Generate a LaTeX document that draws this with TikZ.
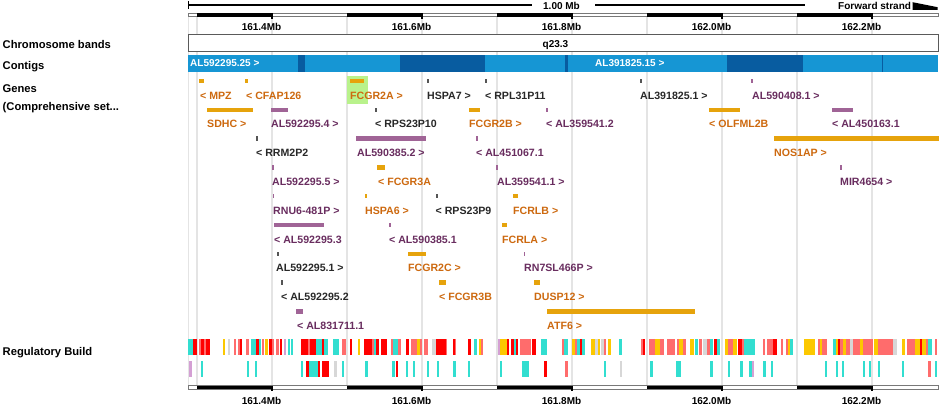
\documentclass[tikz,border=0pt]{standalone}
\usepackage{fontspec}
\setmainfont{Liberation Sans}
\definecolor{gbar}{RGB}{230,163,12}
\definecolor{glab}{RGB}{205,105,15}
\definecolor{pbar}{RGB}{160,100,150}
\definecolor{plab}{RGB}{105,45,95}
\definecolor{kbar}{RGB}{85,85,85}
\definecolor{klab}{RGB}{40,40,40}
\definecolor{hilite}{RGB}{185,242,140}
\definecolor{ctgL}{RGB}{22,150,212}
\definecolor{ctgD}{RGB}{8,92,160}
\definecolor{gridc}{RGB}{228,228,228}
\definecolor{rulc}{RGB}{120,120,120}
\definecolor{bandc}{RGB}{90,90,90}
\definecolor{rCy}{RGB}{50,222,208}
\definecolor{rRd}{RGB}{255,0,0}
\definecolor{rSa}{RGB}{255,108,108}
\definecolor{rGo}{RGB}{252,200,0}
\definecolor{rGr}{RGB}{215,215,215}
\definecolor{rPk}{RGB}{212,160,212}
\newcommand\fLeft{\fontsize{11.2}{13}\selectfont\bfseries}
\newcommand\fRul{\fontsize{10}{12}\selectfont\bfseries}
\newcommand\fGene{\fontsize{10.6}{12}\selectfont\bfseries}
% name, row, x1, x2, barcolour, label x, text colour, text
\newcommand\ensgene[8]{%
  \fill[#5] (#3,{81+28.8*#2-2.25}) rectangle (#4,{81+28.8*#2+2.25});
  \node[genelab, text=#7] (#1) at (#6,{99.1+28.8*#2}) {#8};
}
\newcommand\ensruler[1]{%
  \draw[rulc, line width=0.6, fill=white] (188,#1) rectangle (938,#1+3.6);
  \foreach \x in {197,347,497,647,797} \fill (\x,#1) rectangle (\x+75,#1+3.6);
  \foreach \x in {272,422,572,722,872} \draw[line width=1.3] (\x,#1) -- (\x,#1+5.5);
}
\begin{document}
\begin{tikzpicture}[x=1pt,y=-1pt,
  genelab/.style={anchor=base west, inner sep=0pt, font=\fGene},
  leftlab/.style={anchor=base west, inner sep=0pt, font=\fLeft},
  rullab/.style={anchor=base, inner sep=0pt, font=\fRul},
  ctglab/.style={anchor=base west, inner sep=0pt, font=\fRul, text=white}]
\useasboundingbox (0,0) rectangle (941,406);
\fill[white] (0,0) rectangle (941,406);

% grid lines
\foreach \x in {197,272,...,872} \draw[gridc, line width=2.4] (\x,17) -- (\x,386);
\draw[gridc, line width=1] (188.5,17) -- (188.5,386);

% top scale
\draw[line width=1.3] (188,5) -- (532,5) (595,5) -- (805,5);
\draw[line width=1.3] (188.6,1.5) -- (188.6,9);
\node[rullab] (scale) at (561.5,9.3) {1.00 Mb};
\node[rullab, anchor=base west] (fwd) at (838,9.6) {Forward strand};
\fill (912.5,2.2) -- (937.5,7.2) -- (937.5,9.8) -- (912.5,9.8) -- cycle;

% rulers
\ensruler{13.2}
\ensruler{385.6}
\foreach \x/\lbl in {272/161.4,422/161.6,572/161.8,722/162.0,872/162.2} {
  \node[rullab] (rt\x) at (\x-10.5,30.9) {\lbl Mb};
  \node[rullab] (rb\x) at (\x-10.5,404.4) {\lbl Mb};
}

% left labels
\node[leftlab] (lcb) at (2.5,48.3) {Chromosome bands};
\node[leftlab] (lct) at (2.5,70) {Contigs};
\node[leftlab] (lge) at (2.5,92.6) {Genes};
\node[leftlab] (lcs) at (2.5,110.2) {(Comprehensive set...};
\node[leftlab] (lrb) at (2.5,355) {Regulatory Build};

% chromosome band
\draw[bandc, line width=0.8, fill=white] (188,34) rectangle (938,51.5);
\node[rullab] (q) at (555.5,47.6) {q23.3};

% contigs
\fill[ctgL] (188,55) rectangle (938,72.5);
\foreach \a/\b in {298/305,400/485,565/567.5,727/803,881.5/883}
  \fill[ctgD] (\a,55) rectangle (\b,72.5);
\node[ctglab] (c1) at (190,66.9) {AL592295.25 >};
\node[ctglab] (c2) at (595,66.9) {AL391825.15 >};

% genes
\fill[hilite] (346.8,76) rectangle (367.8,104);
\ensgene{mpz}{0}{199}{204}{gbar}{200}{glab}{< MPZ}
\ensgene{cfap}{0}{245}{247.5}{gbar}{246}{glab}{< CFAP126}
\ensgene{fcgrtwoa}{0}{350}{364}{gbar}{350}{glab}{FCGR2A >}
\ensgene{hspaseven}{0}{427}{429}{kbar}{427}{klab}{HSPA7 >}
\ensgene{rpl}{0}{485}{487}{kbar}{485}{klab}{< RPL31P11}
\ensgene{alA}{0}{640}{642}{kbar}{640}{klab}{AL391825.1 >}
\ensgene{alB}{0}{751}{752.5}{pbar}{752}{plab}{AL590408.1 >}

\ensgene{sdhc}{1}{207}{253}{gbar}{207}{glab}{SDHC >}
\ensgene{alC}{1}{271}{288}{pbar}{271}{plab}{AL592295.4 >}
\ensgene{rpsA}{1}{375}{377}{kbar}{375}{klab}{< RPS23P10}
\ensgene{fcgrtwob}{1}{469}{480}{gbar}{469}{glab}{FCGR2B >}
\ensgene{alD}{1}{546}{547.5}{pbar}{546}{plab}{< AL359541.2}
\ensgene{olf}{1}{709}{740}{gbar}{709}{glab}{< OLFML2B}
\ensgene{alE}{1}{832}{853}{pbar}{832}{plab}{< AL450163.1}

\ensgene{rrm}{2}{256}{258}{kbar}{256}{klab}{< RRM2P2}
\ensgene{alF}{2}{356}{426}{pbar}{357}{plab}{AL590385.2 >}
\ensgene{alG}{2}{476}{477.5}{pbar}{476}{plab}{< AL451067.1}
\ensgene{nos}{2}{774}{939}{gbar}{774}{glab}{NOS1AP >}

\ensgene{alH}{3}{272}{273.5}{pbar}{272}{plab}{AL592295.5 >}
\ensgene{fcgrthreea}{3}{377}{385}{gbar}{378}{glab}{< FCGR3A}
\ensgene{alI}{3}{496}{497.5}{pbar}{497}{plab}{AL359541.1 >}
\ensgene{mir}{3}{840}{841.5}{pbar}{840}{plab}{MIR4654 >}

\ensgene{rnu}{4}{272.5}{274}{pbar}{273}{plab}{RNU6-481P >}
\ensgene{hspasix}{4}{365}{367}{gbar}{365}{glab}{HSPA6 >}
\ensgene{rpsB}{4}{435.5}{437.5}{kbar}{435.5}{klab}{< RPS23P9}
\ensgene{fcrlb}{4}{513}{518}{gbar}{513}{glab}{FCRLB >}

\ensgene{alJ}{5}{274}{324}{pbar}{274}{plab}{< AL592295.3}
\ensgene{alK}{5}{389}{390.5}{pbar}{389}{plab}{< AL590385.1}
\ensgene{fcrla}{5}{502}{507}{gbar}{502}{glab}{FCRLA >}

\ensgene{alL}{6}{276.5}{278.5}{kbar}{276}{klab}{AL592295.1 >}
\ensgene{fcgrtwoc}{6}{408}{426}{gbar}{408}{glab}{FCGR2C >}
\ensgene{rnseven}{6}{523.5}{525}{pbar}{524}{plab}{RN7SL466P >}

\ensgene{alM}{7}{280.5}{282.5}{kbar}{281}{klab}{< AL592295.2}
\ensgene{fcgrthreeb}{7}{439}{446}{gbar}{439}{glab}{< FCGR3B}
\ensgene{dusp}{7}{534}{540}{gbar}{534}{glab}{DUSP12 >}

\ensgene{alN}{8}{296}{303}{pbar}{297}{plab}{< AL831711.1}
\ensgene{atf}{8}{547}{695}{gbar}{547}{glab}{ATF6 >}

% regulatory build, row 1
\foreach \a/\b/\c in {188/193/rCy,193/197/rRd,
 199/201/rSa,201/204/rRd,204/206/rSa,206/210/rRd,
 223/225/rGo,228/230/rGr,234/236/rSa,238/240/rSa,240/242/rRd,246/249/rSa,
 251/256/rCy,256/259/rRd,259/261/rCy,262/264/rSa,265/268/rGo,269/272/rRd,272/274/rSa,
 276/279/rSa,280/282/rRd,284/286/rPk,288/290/rCy,291/293/rCy,
 301/308/rRd,308/310/rSa,310/316/rRd,316/322/rCy,322/324/rRd,324/328/rCy,
 333/339/rCy,342/346/rSa,350/352/rRd,358/359.5/rGo,364/372/rRd,372/374/rSa,
 374/376/rCy,376/379/rRd,381/387/rRd,391/393/rSa,393/396/rCy,396/398/rCy,398/401/rSa,
 406/409/rRd,411/417/rSa,417/420/rGo,420/422/rSa,424/428/rSa,432/436/rGr,436/446/rRd,446/447/rSa,
 453/455/rRd,455/456/rSa,468/471/rRd,474/477/rCy,479/481/rGo,481/483/rSa,
 498/500/rPk,500/507/rGo,507/509/rRd,511/514/rRd,514/516/rCy,516/518/rRd,520/531/rSa,532/536/rRd,541/547/rCy,
 562/564/rSa,564/568/rCy,572/575/rGo,575/577/rSa,577/580/rCy,580/582/rRd,582/585/rCy,
 591/595/rGo,595/598/rGr,598/600/rGo,601/604/rGr,604/606/rSa,608/611/rGo,619/622/rCy,
 641/643/rSa,643/645/rRd,649/655/rSa,655/660/rGo,660/664/rSa,667/675/rSa,677/679/rSa,679/683/rGo,683/686/rSa,
 690/694/rGo,695/698/rCy,699/702/rSa,703/707/rGr,707/710/rSa,710/713/rCy,714/717/rRd,717/720/rCy,
 725/728/rGo,728/733/rSa,733/737/rGo,738/742/rRd,742/744/rSa,744/755/rCy,
 763/765/rSa,767/773/rSa,773/777/rRd,781/783/rSa,786/788/rSa,788/790/rGo,790/793/rCy,
 804/815/rGo,818/820/rSa,820/822/rGo,822/827/rSa,
 833/836/rCy,836/838/rGo,838/840/rRd,840/843/rSa,843/846/rGo,846/850/rSa,850/853/rGr,
 853/860/rSa,860/863/rGo,863/873/rSa,874/878/rGo,878/893/rSa,893/897/rGr,
 902/905/rGo,907/915/rSa,915/920/rGo,920/922/rRd,922/926/rGo,926/928/rSa,928/932/rCy,935/937/rSa}
  \fill[\c] (\a-0.4,339) rectangle (\b+0.4,355);

% regulatory build, row 2
\foreach \a/\b/\c in {189/192/rPk,201/203/rCy,247/249/rCy,255/257/rCy,301/303/rCy,306/309/rRd,309/318/rCy,318/320/rRd,322/329/rRd,334/337/rGr,342/344/rCy,365/368/rCy,
 392/395/rCy,396/398/rRd,406/408/rCy,413/415/rCy,427/429/rCy,437/439/rCy,453/456/rCy,468/470/rCy,500/502/rCy,522/529/rCy,544/547/rRd,
 565/568/rSa,604/606/rCy,620/622/rGr,650/653/rCy,676/681/rCy,710/713/rCy,728/730/rCy,740/743/rCy,749/752/rCy,752/754/rPk,
 763/766/rCy,771/773/rCy,825/827/rCy,836/838/rCy,842/844/rCy,863/865/rCy,869/871/rCy,878/880/rCy,902/904/rCy,928/931/rSa,935/937/rCy}
  \fill[\c] (\a-0.3,361) rectangle (\b+0.3,377);
\end{tikzpicture}
\end{document}
